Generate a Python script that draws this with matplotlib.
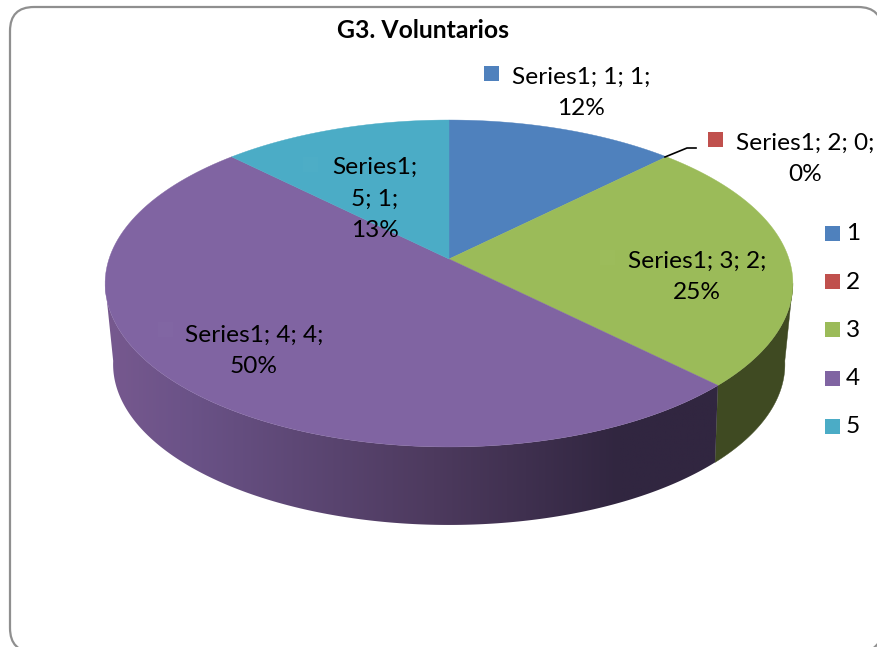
#!/usr/bin/env python3
# -*- coding: utf-8 -*-
import numpy as np
from matplotlib import pyplot as plt
from matplotlib import colors as mcolors
from matplotlib.patches import FancyBboxPatch, Polygon, Rectangle

title = 'G3. Voluntarios'
categories = ['1', '2', '3', '4', '5']
values = [1, 0, 2, 4, 1]
slice_colors = ['#4f81bd', '#c0504d', '#9bbb59', '#8064a2', '#4bacc6']
data_labels = ['Series1; 1; 1;\n12%', 'Series1; 2; 0;\n0%', 'Series1; 3; 2;\n25%',
               'Series1; 4; 4;\n50%', 'Series1;\n5; 1;\n13%']
label_pos = [(581, 93), (805, 159), (697, 277), (254, 351), (375, 199)]

plt.rcParams['font.family'] = ['Lato', 'DejaVu Sans']
FONT = 17.6


def top_face(t):
    # perspective view of the disc, t runs clockwise from 12 o'clock
    k = 0.1498
    d = 1 + k * np.cos(t)
    return 449 + 340 * np.sin(t) / d, 259 - 159.8 * np.cos(t) / d


def bottom_face(t):
    k = 0.17
    d = 1 + k * np.cos(t)
    return 449 + 331 * np.sin(t) / d, 337 - 156 * np.cos(t) / d


fig = plt.figure(figsize=(8.78, 6.47), dpi=100)
ax = fig.add_axes([0, 0, 1, 1])
ax.set_xlim(0, 878)
ax.set_ylim(647, 0)
ax.axis('off')

ax.add_patch(FancyBboxPatch((32, 29), 828, 601, boxstyle='round,pad=22,rounding_size=24',
                            fc='white', ec='#8f8f8f', lw=1.6))

edges = np.cumsum([0] + values) / sum(values) * 2 * np.pi

# side wall first, only the near part between the two outline tangents
t_right = np.radians(98.6)
t_left = np.radians(261.4)
# purple side gets darker to the right, gradient clipped to the wall
shade = mcolors.LinearSegmentedColormap.from_list('side', [
    (0.0, '#77598f'), (0.14, '#6a5287'), (0.53, '#4d3a5e'), (0.83, '#312640'), (1.0, '#312640')])
for i in range(len(values)):
    lo = max(edges[i], t_right)
    hi = min(edges[i + 1], t_left)
    if values[i] == 0 or lo >= hi:
        continue
    ts = np.linspace(lo, hi, 200)
    x0, y0 = top_face(ts)
    x1, y1 = bottom_face(ts[::-1])
    pts = np.column_stack([np.r_[x0, x1], np.r_[y0, y1]])
    if i == 3:
        wall = Polygon(pts, fc='none', ec='none')
        ax.add_patch(wall)
        im = ax.imshow(np.linspace(0, 1, 256).reshape(1, -1), cmap=shade, aspect='auto',
                       extent=(105, 725, 530, 280), zorder=1)
        im.set_clip_path(wall)
    elif i == 2:
        ax.add_patch(Polygon(pts, fc='#3f4a22', ec='#3f4a22', lw=0.3, zorder=1))
ax.set_xlim(0, 878)
ax.set_ylim(647, 0)

for i in range(len(values)):
    if values[i] == 0:
        continue
    ts = np.linspace(edges[i], edges[i + 1], 120)
    x, y = top_face(ts)
    pts = np.column_stack([np.r_[449, x], np.r_[259, y]])
    ax.add_patch(Polygon(pts, fc=slice_colors[i], ec=slice_colors[i], lw=0.3, zorder=2))

# leader line of the empty slice
ax.plot([665, 687, 696], [157, 148, 148], color='black', lw=1.2, zorder=3)

for lab, (lx, ly) in zip(data_labels, label_pos):
    ax.text(lx, ly, lab, ha='center', va='center', fontsize=FONT, linespacing=1.6, color='black', zorder=4)

# keys in front of the outside labels
ax.add_patch(Rectangle((484, 66), 15, 15, fc=slice_colors[0], ec='none', zorder=3))
ax.add_patch(Rectangle((708, 132), 15, 15, fc=slice_colors[1], ec='none', zorder=3))
# the keys on top of the slices hardly show
for kx, ky in [(600, 250), (158, 322), (303, 157)]:
    ax.add_patch(Rectangle((kx, ky), 15, 15, fc='white', alpha=0.015, ec='none', zorder=3))

ax.text(423, 31, title, ha='center', va='center', fontsize=17.8, fontweight='bold', zorder=4)

# legend
for i, cat in enumerate(categories):
    yy = 233.5 + i * 48.2
    ax.add_patch(Rectangle((825, yy - 7.5), 15, 15, fc=slice_colors[i], ec='none', zorder=3))
    ax.text(846, yy + 0.5, cat, ha='left', va='center', fontsize=FONT, zorder=4)

fig.savefig('out.png', dpi=100)
